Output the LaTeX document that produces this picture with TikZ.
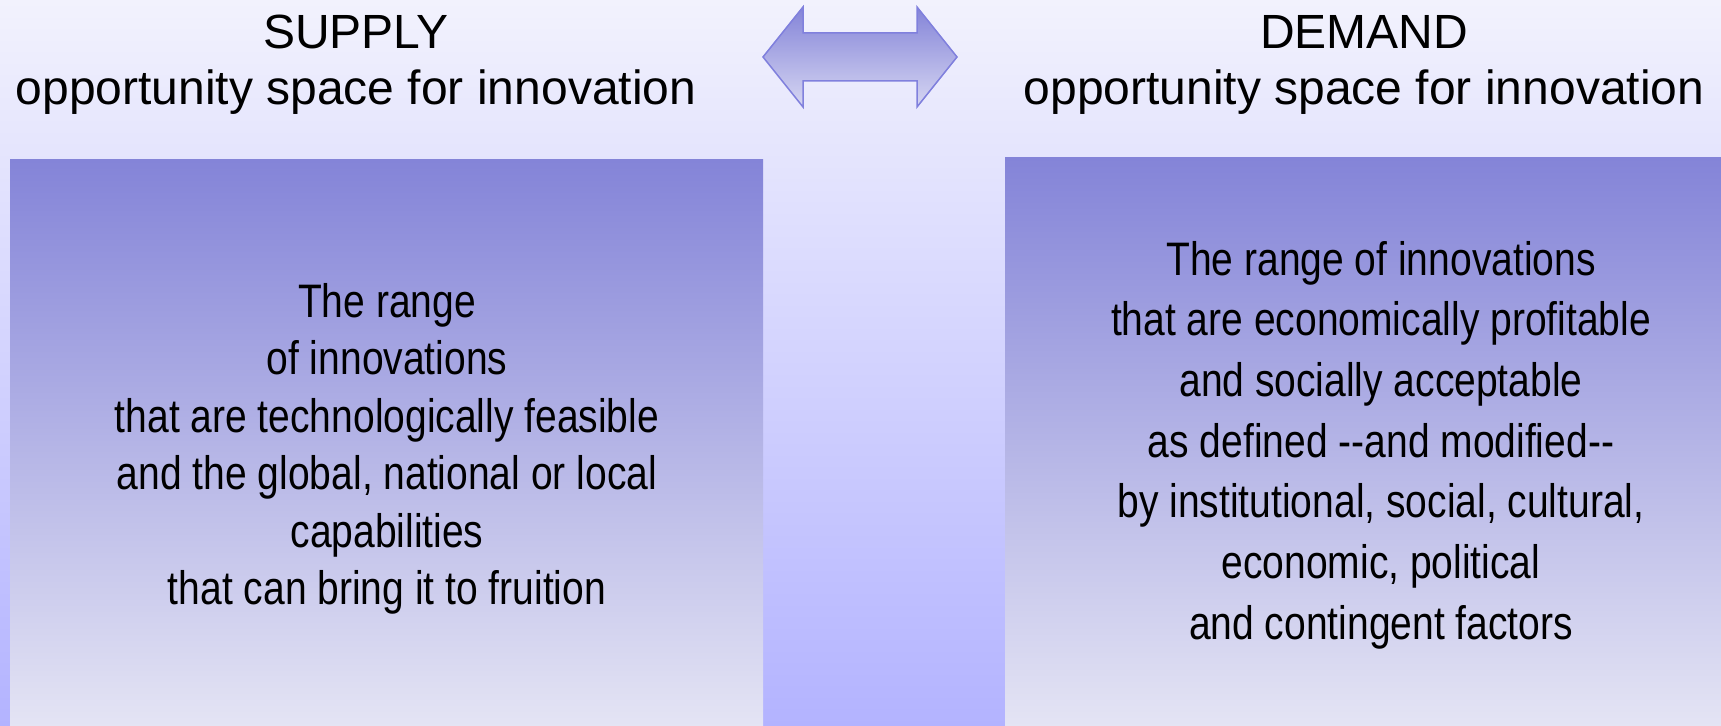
\documentclass[tikz,border=0pt]{standalone}
\usepackage{fontspec}
\setmainfont{Liberation Sans}
\newfontfamily\narrowfont[FakeStretch=0.83]{Liberation Sans}
\usetikzlibrary{positioning}

\definecolor{bgtop}{RGB}{242,242,253}
\definecolor{bgbottom}{RGB}{179,179,255}
\definecolor{boxtop}{RGB}{132,132,216}
\definecolor{boxbottom}{RGB}{228,228,244}
\definecolor{arrowtop}{RGB}{132,132,216}
\definecolor{arrowbottom}{RGB}{214,214,242}
\definecolor{arrowline}{RGB}{128,128,221}

\tikzset{
  heading/.style={align=center, inner sep=0pt, font=\fontsize{24}{28}\selectfont},
  rangetext/.style={align=center, inner sep=0pt, font=\narrowfont\fontsize{23.5}{#1}\selectfont},
  spacebox/.style={top color=boxtop, bottom color=boxbottom},
}

\begin{document}
\begin{tikzpicture}[x=0.5pt,y=-0.5pt]
\useasboundingbox (0,0) rectangle (1721,726);
% background
\shade[top color=bgtop, bottom color=bgbottom] (0,0) rectangle (1721,726);

% the two boxes
\shade[spacebox] (10,160) rectangle (763,726);
\shade[spacebox] (1005,158) rectangle (1721,726);

% double arrow between the headings
\draw[arrowline, line width=0.75pt, top color=arrowtop, bottom color=arrowbottom]
  (763,57) -- (803,7) -- (803,33) -- (917,33) -- (917,7) -- (957,57)
  -- (917,107) -- (917,81) -- (803,81) -- (803,107) -- cycle;

\node[heading] (supply) at (356,65) {SUPPLY\\opportunity space for innovation};
\node[heading] (demand) at (1364,65) {DEMAND\\opportunity space for innovation};

\node[rangetext=28.75] (supplytext) at (387,449) {The range\\of innovations\\that are technologically feasible\\and the global, national or local\\capabilities\\that can bring it to fruition};
\node[rangetext=30.35] (demandtext) at (1381,445) {The range of innovations\\that are economically profitable\\and socially acceptable\\as defined --and modified--\\by institutional, social, cultural,\\economic, political\\and contingent factors};
\end{tikzpicture}
\end{document}
